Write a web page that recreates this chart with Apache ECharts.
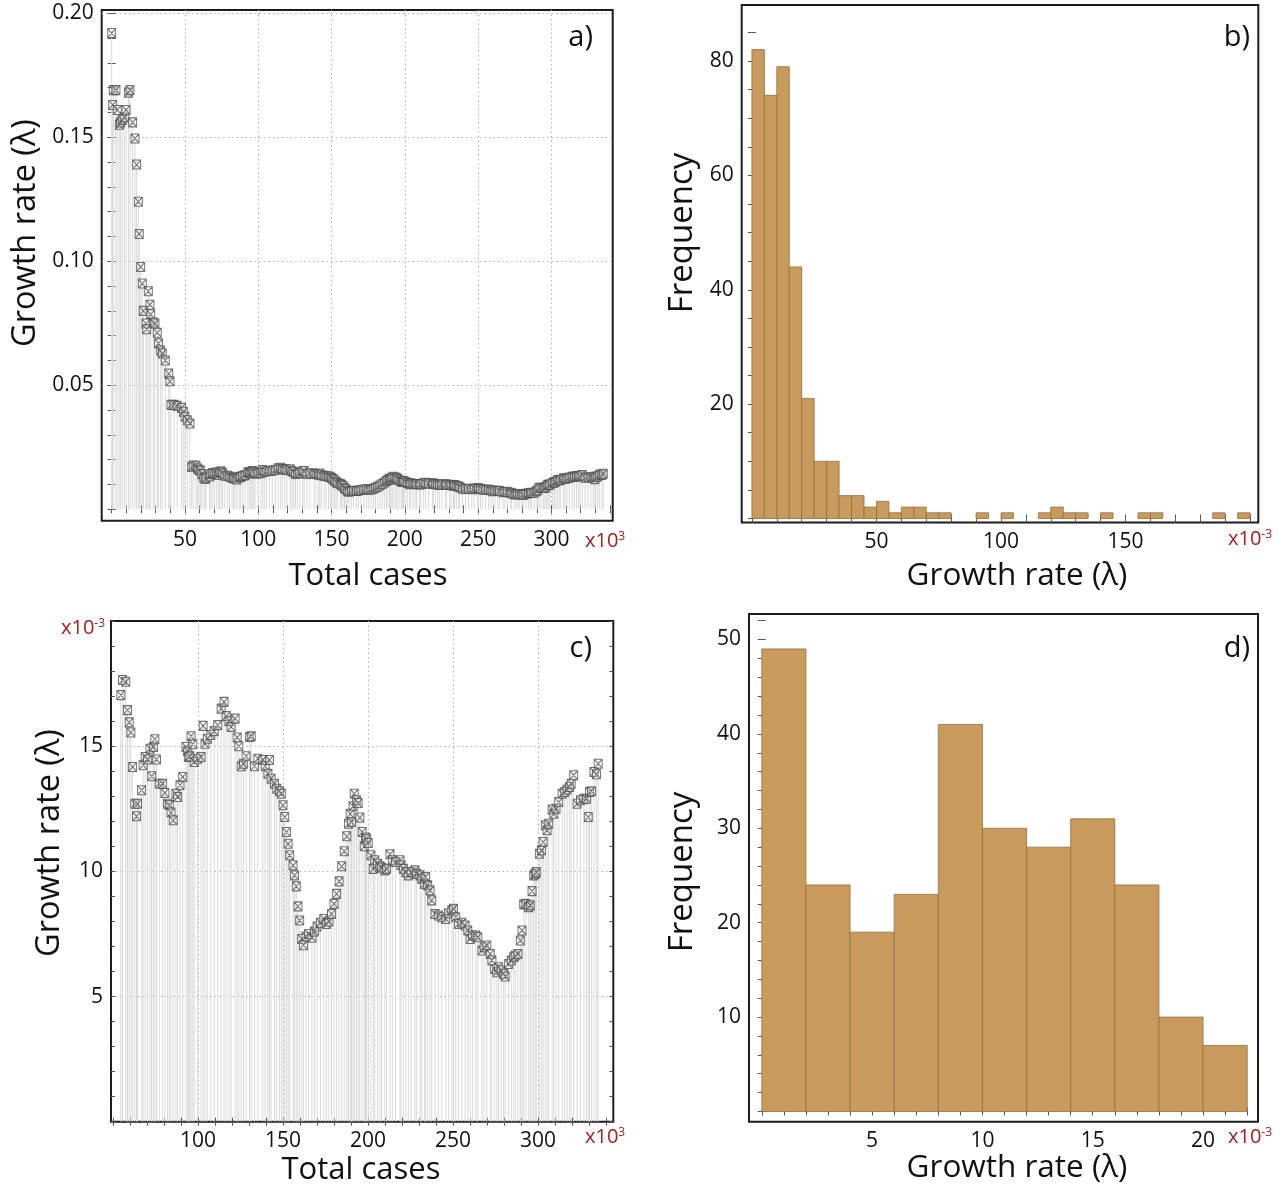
<!DOCTYPE html>
<html><head><meta charset="utf-8">
<script src="https://cdn.jsdelivr.net/npm/echarts@6/dist/echarts.min.js"></script>
<style>html,body{margin:0;padding:0;background:#fff;}#c{width:1279px;height:1186px;}</style>
</head><body><div id="c"></div>
<script>
// ---------- DATA ----------
// total cases (x10^3) and growth rate (lambda), one entry per observation
const totalCasesK = [0.0,0.7,1.1,2.9,3.8,5.2,6.0,7.3,8.6,9.8,11.4,12.5,14.3,15.9,17.0,18.2,18.8,19.8,20.9,21.6,23.4,23.9,25.0,26.1,26.6,28.4,29.5,31.1,32.0,33.4,34.5,36.6,38.9,39.8,40.5,42.5,44.7,47.7,48.9,50.0,51.6,53.4,
54.6,55.6,57.5,58.5,59.5,60.5,61.5,62.8,63.8,64.4,66.8,67.7,68.9,70.3,71.7,72.7,73.7,74.6,75.6,77.2,79.2,80.5,82.1,83.1,84.1,85.4,87.0,88.0,89.4,91.0,92.9,93.9,94.3,95.2,95.9,96.9,97.8,99.8,101.8,103.0,104.1,105.5,107.5,109.5,111.6,113.6,115.3,116.6,118.2,119.5,121.8,123.0,124.0,125.4,126.7,128.3,130.3,131.3,133.2,135.2,138.1,139.5,141.1,142.0,143.0,145.0,146.3,147.9,149.0,150.0,151.0,152.0,153.0,153.9,155.9,156.8,157.8,158.8,159.8,
161.0,162.0,163.5,165.0,167.0,168.5,170.0,172.0,174.0,175.5,177.0,178.5,180.0,181.5,183.0,184.5,186.0,187.5,188.5,189.5,190.3,191.2,191.9,193.2,194.2,195.2,196.6,197.8,198.5,199.1,200.1,201.7,203.1,204.0,205.6,207.0,208.0,209.9,210.9,212.9,214.3,216.2,218.8,219.4,220.8,222.3,223.7,225.3,227.6,228.6,230.6,231.6,233.2,233.9,235.1,236.5,237.5,239.4,241.4,243.4,245.7,247.3,249.3,250.3,251.6,253.2,255.2,257.1,258.7,260.1,261.5,263.4,264.6,267.0,268.3,269.9,271.9,272.9,274.5,275.8,276.8,278.3,279.8,280.7,282.7,284.3,285.7,286.6,288.2,289.6,290.6,291.6,292.9,294.5,295.5,296.5,297.5,298.4,299.0,300.8,302.0,303.0,304.3,305.3,306.3,308.3,309.3,310.6,312.2,314.2,315.7,317.1,318.5,319.5,321.0,323.0,325.0,327.0,328.5,329.6,330.3,331.5,332.9,334.4,335.4];
const growthRate = [0.192,0.163,0.169,0.169,0.161,0.155,0.156,0.157,0.158,0.161,0.168,0.169,0.156,0.1495,0.139,0.124,0.111,0.0977,0.091,0.080,0.0749,0.0726,0.0879,0.0825,0.0786,0.0753,0.0749,0.0712,0.0669,0.064,0.0628,0.060,0.0547,0.0516,0.0421,0.0421,0.0417,0.0409,0.0393,0.0373,0.0359,0.0346,
0.01704,0.01764,0.01757,0.01644,0.01595,0.01555,0.01417,0.0127,0.0122,0.0127,0.01324,0.01424,0.01457,0.01447,0.0149,0.0138,0.01497,0.01528,0.01447,0.0135,0.0135,0.01313,0.0127,0.01265,0.01235,0.01204,0.0131,0.01297,0.01344,0.01377,0.01497,0.0148,0.01457,0.0146,0.0154,0.01508,0.01437,0.0145,0.01457,0.01581,0.0151,0.0153,0.01545,0.0156,0.01584,0.0165,0.01677,0.0162,0.016,0.01577,0.0161,0.01535,0.015,0.0142,0.0143,0.0146,0.01537,0.0154,0.0142,0.0145,0.01445,0.0142,0.0139,0.01445,0.0137,0.0135,0.0133,0.0132,0.0131,0.01264,0.01217,0.01157,0.0111,0.01064,0.01024,0.00984,0.0094,0.0086,0.00804,
0.0073,0.00705,0.0074,0.0075,0.00735,0.0076,0.0078,0.00795,0.0081,0.0079,0.008,0.0083,0.0087,0.0091,0.0096,0.0102,0.0108,0.0114,0.0119,0.0123,0.01197,0.0126,0.0131,0.01284,0.01273,0.01215,0.01157,0.011,0.01135,0.0113,0.01113,0.01064,0.0101,0.01044,0.0103,0.0102,0.01015,0.01004,0.0101,0.01068,0.01044,0.01037,0.01044,0.01024,0.0101,0.00997,0.00984,0.00997,0.01004,0.0099,0.00984,0.0097,0.0095,0.00977,0.00944,0.00924,0.00884,0.0083,0.00824,0.00817,0.0081,0.00833,0.00844,0.0085,0.00817,0.0079,0.00795,0.00784,0.00764,0.0073,0.00744,0.00744,0.00737,0.00684,0.00697,0.00704,0.0067,0.00644,0.0061,0.00597,0.00617,0.00604,0.0059,0.0058,0.0063,0.00644,0.00657,0.00664,0.0067,0.00724,0.00764,0.00868,0.0087,0.00857,0.00864,0.00921,0.00984,0.0099,0.00997,0.0107,0.01084,0.01117,0.01184,0.01164,0.0119,0.01247,0.0123,0.0125,0.01277,0.0131,0.01317,0.01327,0.01337,0.0135,0.01384,0.0127,0.01284,0.0129,0.0129,0.01217,0.01317,0.0132,0.01397,0.01388,0.0143];

// histogram b: bins of width 5 (x10^-3)
const histBStart = [0,5,10,15,20,25,30,35,40,45,50,55,60,65,70,75,90,100,115,120,125,130,140,155,160,185,195];
const histBCount = [82,74,79,44,21,10,10,4,4,2,3,1,2,2,1,1,1,1,1,2,1,1,1,1,1,1,1];
const histBWidth = 5;
// histogram d: bins of width 2 (x10^-3)
const histDStart = [0,2,4,6,8,10,12,14,16,18,20];
const histDCount = [49,24,19,23,41,30,28,31,24,10,7];
const histDWidth = 2;

// tick labels
const ticksAx = [50,100,150,200,250,300];
const ticksAy = [0.05,0.10,0.15,0.20];
const ticksBx = [50,100,150];
const ticksBy = [20,40,60,80];
const ticksCx = [100,150,200,250,300];
const ticksCy = [5,10,15];
const ticksDx = [5,10,15,20];
const ticksDy = [10,20,30,40,50];

// ---------- BUILD ----------
const FONT = "'Open Sans','DejaVu Sans',sans-serif";
const RED = '#a3201f';
function steps(a,b,s,dec){const r=[];for(let v=a;v<=b+1e-9;v+=s)r.push(+v.toFixed(dec||4));return r;}

const panels = [
  {rect:{left:101.7,top:10,width:511,height:510.7}, x:[-6.8,341.8], y:[-0.0046,0.2013],
   xMinor:steps(0,340,10), yMinor:steps(0,0.2,0.01), xLab:ticksAx, yLab:ticksAy, gridLines:true,
   yFmt:v=>v.toFixed(2)},
  {rect:{left:741.7,top:5,width:516.6,height:517.5}, x:[-4.1,203.3], y:[-0.7,89.8],
   xMinor:steps(0,200,10), yMinor:steps(0,85,5), xLab:ticksBx, yLab:ticksBy, gridLines:false},
  {rect:{left:111,top:621,width:502.3,height:500.7}, x:[48.8,344.3], y:[0,20],
   xMinor:steps(50,340,10), yMinor:steps(0,20,1), xLab:ticksCx, yLab:ticksCy, gridLines:true},
  {rect:{left:749,top:614,width:509,height:507.7}, x:[-0.58,22.49], y:[-1.08,52.7],
   xMinor:steps(0,22,1), yMinor:steps(0,52,2), xLab:ticksDx, yLab:ticksDy, gridLines:false}
];

const grids=[], xAxes=[], yAxes=[], idx=[];
panels.forEach(p=>{
  if(p.gridLines){
    const g=grids.length;
    grids.push(Object.assign({show:false},p.rect));
    const gl={show:true,lineStyle:{color:'#b0b0b0',width:1,type:[1.5,3]}};
    xAxes.push({gridIndex:g,type:'value',min:p.x[0],max:p.x[1],axisLine:{show:false},
      axisTick:{show:false,customValues:p.xLab},axisLabel:{show:false,customValues:p.xLab},splitLine:gl});
    yAxes.push({gridIndex:g,type:'value',min:p.y[0],max:p.y[1],axisLine:{show:false},
      axisTick:{show:false,customValues:p.yLab},axisLabel:{show:false,customValues:p.yLab},splitLine:gl});
  }
  const g=grids.length;
  grids.push(Object.assign({show:true,borderColor:'#1c1c1c',borderWidth:2,backgroundColor:'transparent'},p.rect));
  const tick=vals=>({show:true,inside:true,length:4,customValues:vals,lineStyle:{color:'#555',width:1}});
  const lab=(vals,fmt,m)=>({show:true,customValues:vals,formatter:fmt||(v=>String(v)),fontSize:21,fontFamily:FONT,color:'#111',margin:m});
  const xi=xAxes.length, yi=yAxes.length;
  xAxes.push({gridIndex:g,type:'value',position:'bottom',min:p.x[0],max:p.x[1],axisLine:{show:false},
    axisTick:tick(p.xMinor),axisLabel:lab(p.xLab,null,9),splitLine:{show:false}});
  xAxes.push({gridIndex:g,type:'value',position:'top',min:p.x[0],max:p.x[1],axisLine:{show:false},
    axisTick:tick(p.xMinor),axisLabel:{show:false},splitLine:{show:false}});
  yAxes.push({gridIndex:g,type:'value',position:'left',min:p.y[0],max:p.y[1],axisLine:{show:false},
    axisTick:tick(p.yMinor),axisLabel:lab(p.yLab,p.yFmt,8),splitLine:{show:false}});
  yAxes.push({gridIndex:g,type:'value',position:'right',min:p.y[0],max:p.y[1],axisLine:{show:false},
    axisTick:tick(p.yMinor),axisLabel:{show:false},splitLine:{show:false}});
  idx.push({x:xi,y:yi});
});

const ptsA = totalCasesK.map((x,i)=>[x,growthRate[i]]);
const ptsC = totalCasesK.map((x,i)=>[x,growthRate[i]*1000]).filter(d=>d[0]>=50&&d[1]<=20);
const histB = histBStart.map((s,i)=>[s,histBCount[i],histBWidth]);
const histD = histDStart.map((s,i)=>[s,histDCount[i],histDWidth]);

const MARK = 'path://M0 0H10V10H0Z M0 0L10 10 M10 0L0 10';
function dropSeries(pi,data){
  return {type:'custom',xAxisIndex:idx[pi].x,yAxisIndex:idx[pi].y,data:data,z:2,clip:true,silent:true,
    renderItem:(params,api)=>{
      const x=api.value(0),y=api.value(1);
      const a=api.coord([x,0]), b=api.coord([x,y]);
      return {type:'line',shape:{x1:a[0],y1:a[1],x2:b[0],y2:b[1]},style:{stroke:'#d9d9d9',lineWidth:1}};
    }};
}
function scatterSeries(pi,data){
  return {type:'scatter',xAxisIndex:idx[pi].x,yAxisIndex:idx[pi].y,data:data,z:3,silent:true,
    symbol:MARK,symbolSize:[8,9],itemStyle:{color:'rgba(235,235,235,0.55)',borderColor:'#4d4d4d',borderWidth:1}};
}
function histSeries(pi,data){
  return {type:'custom',xAxisIndex:idx[pi].x,yAxisIndex:idx[pi].y,data:data,z:2,silent:true,
    renderItem:(params,api)=>{
      const s=api.value(0),c=api.value(1),w=api.value(2);
      const a=api.coord([s,0]), b=api.coord([s+w,c]);
      return {type:'rect',shape:{x:a[0],y:b[1],width:b[0]-a[0],height:a[1]-b[1]},
        style:{fill:'#c89b5c',stroke:'#94703f',lineWidth:0.8}};
    }};
}

function txt(t,x,y,size,opt){
  opt=opt||{};
  return {type:'text',x:x,y:y,rotation:opt.rot||0,silent:true,z:10,
    style:{text:t,font:(size)+'px '+FONT,fill:opt.color||'#111',align:opt.align||'center',verticalAlign:'middle'}};
}
const supRich={m:{fontSize:20,fontFamily:FONT,fill:RED},s:{fontSize:12,fontFamily:FONT,fill:RED,verticalAlign:'top',padding:[0,0,8,0]}};
function unit(t,x,y){return {type:'text',x:x,y:y,silent:true,z:10,style:{text:t,rich:supRich,align:'left',verticalAlign:'middle'}};}

const chart = echarts.init(document.getElementById('c'),null,{renderer:'canvas'});
chart.setOption({
  animation:false,
  grid:grids, xAxis:xAxes, yAxis:yAxes,
  series:[dropSeries(0,ptsA),scatterSeries(0,ptsA),histSeries(1,histB),dropSeries(2,ptsC),scatterSeries(2,ptsC),histSeries(3,histD)],
  graphic:{elements:[
    txt('Total cases',368,576,31), txt('Total cases',361,1170,31),
    txt('Growth rate (λ)',1017,576,31.5), txt('Growth rate (λ)',1017,1168,31.5),
    txt('Growth rate (λ)',26,233,32.5,{rot:Math.PI/2}), txt('Growth rate (λ)',50,843,32.5,{rot:Math.PI/2}),
    txt('Frequency',683,233,33,{rot:Math.PI/2}), txt('Frequency',683,872,33,{rot:Math.PI/2}),
    txt('a)',593,38,29,{align:'right'}), txt('b)',1250,38,29,{align:'right'}),
    txt('c)',592,649,29,{align:'right'}), txt('d)',1250,649,29,{align:'right'}),
    unit('{m|x10}{s|3}',585,541), unit('{m|x10}{s|3}',585,1137),
    unit('{m|x10}{s|-3}',1228,539), unit('{m|x10}{s|-3}',1228,1137),
    unit('{m|x10}{s|-3}',61,628)
  ]}
});
</script></body></html>
